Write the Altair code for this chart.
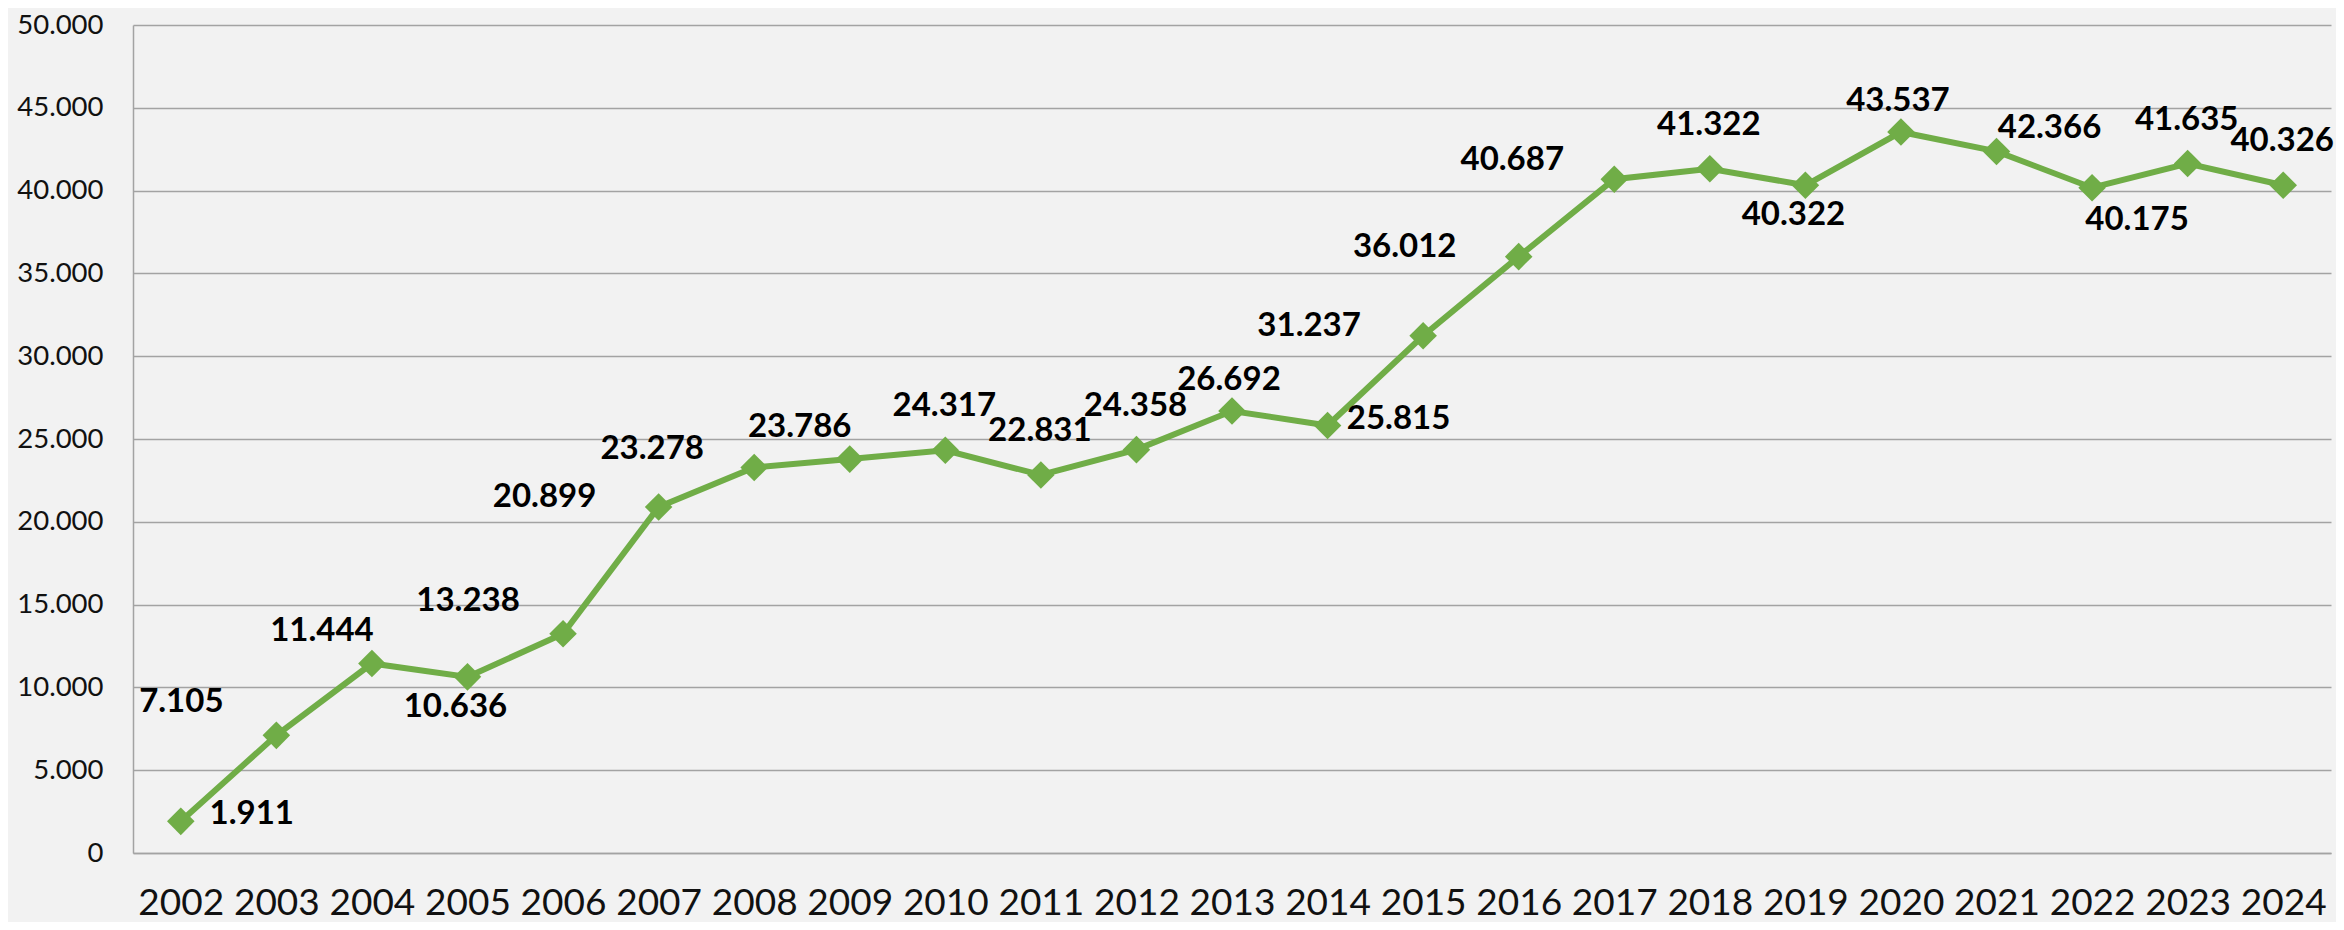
import altair as alt
import pandas as pd

# ---- data ----
years = [str(y) for y in range(2002, 2025)]
values = [1911, 7105, 11444, 10636, 13238, 20899, 23278, 23786, 24317, 22831,
          24358, 26692, 25815, 31237, 36012, 40687, 41322, 40322, 43537, 42366,
          40175, 41635, 40326]
# where each data label sits relative to its marker (compass-style placement)
label_place = ["E", "NW", "NNW", "S", "NW", "W", "WNW", "NNW", "N", "N", "N", "N2",
               "E", "W", "W", "WNW", "N", "S", "N2", "NE", "SE", "N", "N"]
y_ticks = list(range(0, 50001, 5000))

# ---- styling ----
GREEN = "#70ad47"
GRID = "#a3a3a3"
BG = "#f2f2f2"
FONT = "Lato"
OFFSETS = {
    "N": (-1, -44), "N2": (-3, -31), "W": (-114, -10), "WNW": (-102, -19),
    "NW": (-95, -33), "NNW": (-50, -32), "E": (71, -7), "S": (-12, 30),
    "SE": (45, 32), "NE": (53, -23),
}

df = pd.DataFrame({
    "Year": years,
    "Value": values,
    "Label": [f"{v:,}".replace(",", ".") for v in values],
    "Place": label_place,
})

x_enc = alt.X(
    "Year:O",
    scale=alt.Scale(type="point", padding=0.5),
    axis=alt.Axis(
        title=None, labelAngle=0, ticks=False, grid=False,
        domain=True, domainColor=GRID, domainWidth=1.5,
        labelFont=FONT, labelFontSize=37, labelColor="#111111",
        labelPadding=50, labelBaseline="middle",
    ),
)
y_enc = alt.Y(
    "Value:Q",
    scale=alt.Scale(domain=[0, 50000], nice=False, zero=True),
    axis=alt.Axis(
        title=None, values=y_ticks, ticks=False, grid=True,
        gridColor=GRID, gridWidth=1.5, domain=True, domainColor=GRID,
        domainWidth=1.5, labelFont=FONT, labelFontSize=27.5,
        labelColor="#111111", labelPadding=30,
        labelExpr="replace(format(datum.value, ','), ',', '.')",
    ),
)

base = alt.Chart(df)
line = base.mark_line(color=GREEN, strokeWidth=6).encode(x=x_enc, y=y_enc)
points = base.mark_point(shape="diamond", filled=True, opacity=1,
                         color=GREEN, size=760).encode(x=x_enc, y=y_enc)

layers = [line, points]
for place, (dx, dy) in OFFSETS.items():
    layers.append(
        base.transform_filter(alt.datum.Place == place)
        .mark_text(font=FONT, fontSize=33, fontWeight="bold", color="#000000",
                   align="center", baseline="middle", dx=dx, dy=dy)
        .encode(x=x_enc, y=y_enc, text="Label:N")
    )

chart = alt.layer(*layers).properties(
    width=2198,
    height=828,
    autosize=alt.AutoSizeParams(type="none"),
    padding={"left": 125, "top": 17, "right": 5, "bottom": 69},
    background=BG,
).configure_view(strokeWidth=0)

chart.save("out.html", embed_options={"renderer": "svg", "actions": False})
